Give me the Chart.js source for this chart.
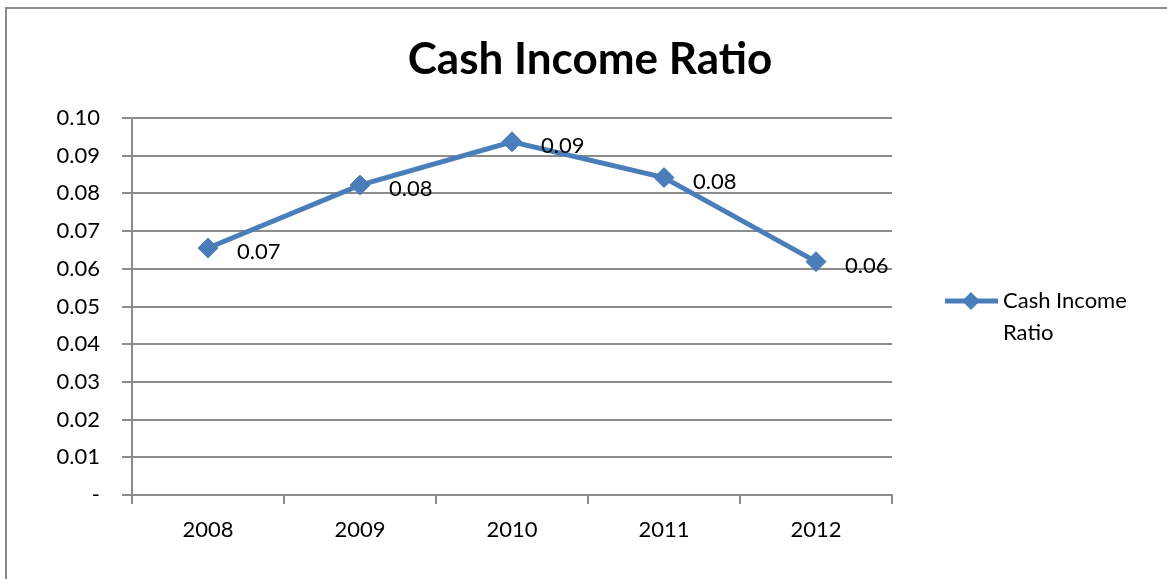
<!DOCTYPE html>
<html>
<head>
<meta charset="utf-8">
<script src="https://cdn.jsdelivr.net/npm/chart.js@4"></script>
<style>
  html, body { margin: 0; padding: 0; background: #fff; overflow: hidden; }
  #wrap { position: relative; width: 1167px; height: 579px; }
  #frame { position: absolute; left: 5px; top: 7px; width: 1200px; height: 620px; border: 2px solid #8a8a8a; box-sizing: border-box; }
  canvas { position: absolute; left: 0; top: 0; }
</style>
</head>
<body>
<div id="wrap">
  <div id="frame"></div>
  <canvas id="chart" width="1167" height="579"></canvas>
</div>
<script>
// ---- data ----
const chartTitle = 'Cash Income Ratio';
const years      = ['2008', '2009', '2010', '2011', '2012'];
const seriesName = 'Cash Income Ratio';
const ratios     = [0.0655, 0.0822, 0.0937, 0.0842, 0.0619];

const FONT  = 'Lato, "Open Sans", sans-serif';
const BLUE  = '#4a7ebb';
const GRID  = '#8c8c8c';

// title drawn over the top padding
const titlePlugin = {
  id: 'xlTitle',
  afterDraw(chart) {
    const c = chart.ctx;
    c.save();
    c.font = 'bold 44px ' + FONT;
    c.fillStyle = '#000';
    c.textAlign = 'center';
    c.textBaseline = 'middle';
    c.fillText(chartTitle, 590, 60);
    c.restore();
  }
};

// value labels right of each point
const labelPlugin = {
  id: 'xlLabels',
  afterDatasetsDraw(chart) {
    const c = chart.ctx;
    const meta = chart.getDatasetMeta(0);
    c.save();
    c.font = '22px ' + FONT;
    c.fillStyle = '#000';
    c.textAlign = 'left';
    c.textBaseline = 'middle';
    meta.data.forEach((pt, i) => {
      c.fillText(ratios[i].toFixed(2), pt.x + 29, pt.y + 4);
    });
    c.restore();
  }
};

// legend at the right, wrapped in two lines like Excel
const legendPlugin = {
  id: 'xlLegend',
  afterDraw(chart) {
    const c = chart.ctx;
    const y = 301;
    c.save();
    c.strokeStyle = BLUE;
    c.lineWidth = 5;
    c.beginPath();
    c.moveTo(945, y);
    c.lineTo(998, y);
    c.stroke();
    c.fillStyle = BLUE;
    c.beginPath();
    c.moveTo(971, y - 9);
    c.lineTo(980, y);
    c.lineTo(971, y + 9);
    c.lineTo(962, y);
    c.closePath();
    c.fill();
    c.font = '22px ' + FONT;
    c.fillStyle = '#000';
    c.textAlign = 'left';
    c.textBaseline = 'middle';
    const words = seriesName.split(' ');
    c.fillText(words.slice(0, 2).join(' '), 1003, y);
    c.fillText(words.slice(2).join(' '), 1003, y + 32);
    c.restore();
  }
};

new Chart(document.getElementById('chart'), {
  type: 'line',
  data: {
    labels: years,
    datasets: [{
      label: seriesName,
      data: ratios,
      borderColor: BLUE,
      backgroundColor: BLUE,
      borderWidth: 5,
      pointStyle: 'rectRot',
      pointRadius: 10,
      pointBorderWidth: 1,
      pointBackgroundColor: BLUE,
      pointBorderColor: BLUE,
      tension: 0,
    }]
  },
  options: {
    responsive: false,
    animation: false,
    layout: { padding: { left: 0, top: 118, right: 275, bottom: 0 } },
    plugins: {
      legend: { display: false },
      title: { display: false },
      tooltip: { enabled: false }
    },
    scales: {
      x: {
        offset: true,
        afterFit: s => { s.height = 84; },
        grid: { offset: true, drawOnChartArea: false, tickLength: 9, color: GRID, lineWidth: 2 },
        border: { color: GRID, width: 2 },
        ticks: { color: '#000', font: { family: FONT, size: 22 }, padding: 13 }
      },
      y: {
        min: 0,
        max: 0.10,
        afterFit: s => { s.width = 132; },
        grid: { color: GRID, lineWidth: 2, tickLength: 10 },
        border: { color: GRID, width: 2 },
        ticks: {
          stepSize: 0.01,
          color: '#000',
          font: { family: FONT, size: 22 },
          padding: 22,
          callback: v => Math.abs(v) < 1e-9 ? '-' : v.toFixed(2)
        }
      }
    }
  },
  plugins: [titlePlugin, labelPlugin, legendPlugin]
});
</script>
</body>
</html>
